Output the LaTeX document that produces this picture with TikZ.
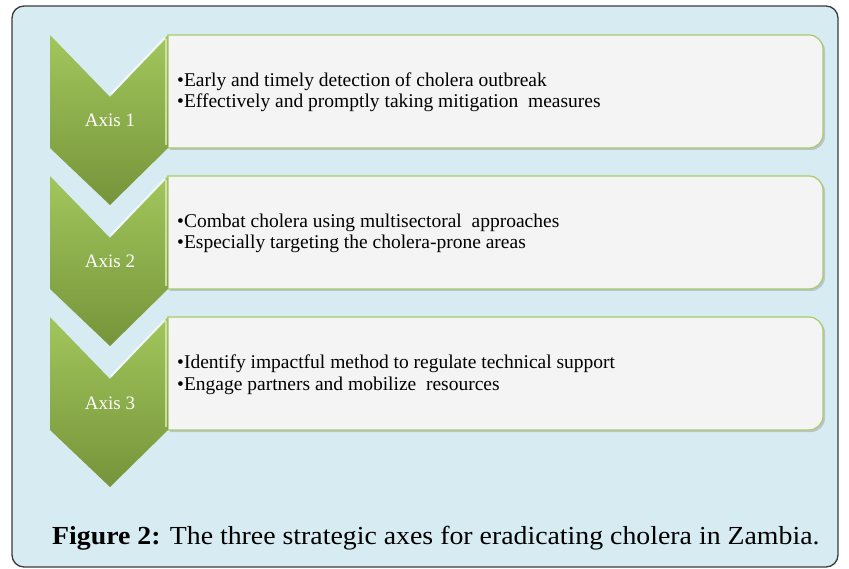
\documentclass[tikz,border=0pt]{standalone}
\usepackage{fontspec}
\setmainfont{Liberation Serif}
\usepackage{tikz}
\usetikzlibrary{shadows,positioning}

\definecolor{panelblue}{HTML}{D7ECF2}
\definecolor{framegrey}{HTML}{3A3A3A}
\definecolor{chevlight}{HTML}{A2C65C}
\definecolor{chevdark}{HTML}{76943A}
\definecolor{boxfill}{HTML}{F3F4F3}
\definecolor{boxline}{HTML}{A8CB6C}

\tikzset{
  chevron/.style={top color=chevlight, bottom color=chevdark, draw=none},
  axislabel/.style={anchor=base, text=white, inner sep=0pt, font=\fontsize{19}{21}\selectfont},
  itembox/.style={fill=boxfill, draw=boxline, line width=1.2pt,
    drop shadow={shadow xshift=2pt, shadow yshift=-2pt, fill=black!45, opacity=0.4}},
  itemtext/.style={anchor=base west, inner sep=0pt, font=\fontsize{19.5}{21}\selectfont}
}

\begin{document}
\begin{tikzpicture}[x=1pt, y=-1pt]
	\useasboundingbox (0,0) rectangle (849,569);
	\draw[framegrey, fill=panelblue, line width=1.3pt, rounded corners=12pt] (12,6) rectangle (838,567);

	\foreach \n/\first/\second [count=\i from 0] in {
		1/{Early and timely detection of cholera outbreak}/{Effectively and promptly taking mitigation\ \ measures},
		2/{Combat cholera using multisectoral\ \ approaches}/{Especially targeting the cholera-prone areas},
		3/{Identify impactful method to regulate technical support}/{Engage partners and mobilize\ \ resources}}
	{
		\pgfmathsetmacro{\top}{35+141*\i}
		% text box, rounded on the right only
		\path[itembox] (168,\top) [rounded corners=14pt] -- (823,\top) -- (823,\top+113)
			[sharp corners] -- (168,\top+113) -- cycle;
		% chevron
		\path[chevron] (50,\top) -- (110,\top+62) -- (168,\top) -- (168,\top+113)
			-- (110,\top+170) -- (50,\top+113) -- cycle;
		\draw[white, opacity=0.75, line width=2pt] (111,\top+59) -- (165,\top+3);
		\draw[white!60!chevlight, opacity=0.8, line width=1.5pt] (166,\top+4) -- (166,\top+110);
		\node[axislabel] (axis\n) at (110,\top+92) {Axis \n};
		\node[itemtext] (item\n a) at (177,\top+52) {•\first};
		\node[itemtext] (item\n b) at (177,\top+73) {•\second};
	}

	\node[anchor=base west, inner sep=0pt, font=\fontsize{26}{28}\selectfont] (caption) at (52,544)
		{\scalebox{1.07}[1]{\textbf{Figure 2:} The three strategic axes for eradicating cholera in Zambia.}};
\end{tikzpicture}
\end{document}
